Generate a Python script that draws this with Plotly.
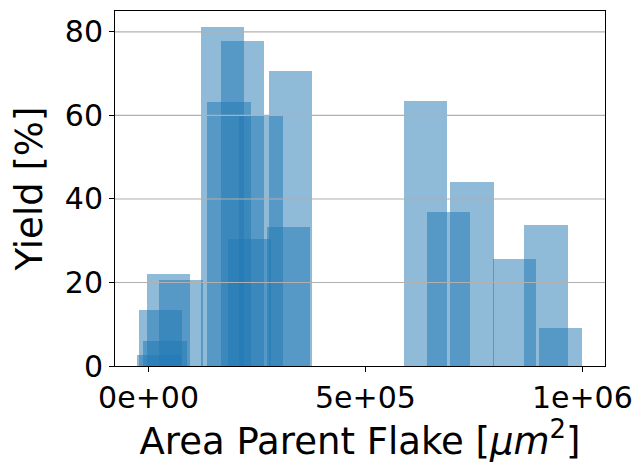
import plotly.graph_objects as go

# Data (bar centers in um^2, yields in %)
area_centers = [24500, 27000, 37800, 46000, 75000,
                170400, 185400, 216300, 232800, 259200, 322700, 327600,
                638800, 691500, 745400, 844000, 916700, 949200]
yield_values = [2.6, 13.3, 5.95, 22.1, 20.5,
                81.2, 63.1, 77.8, 30.5, 59.8, 33.3, 70.7,
                63.4, 36.9, 44.0, 25.7, 33.8, 9.0]
bar_width = 1e5

x_tick_vals = [0, 5e5, 1e6]
x_tick_text = ["0e+00", "5e+05", "1e+06"]
y_tick_vals = [0, 20, 40, 60, 80]

fig = go.Figure()
fig.add_trace(go.Bar(
    x=area_centers,
    y=yield_values,
    width=[bar_width] * len(area_centers),
    marker=dict(color="rgba(31,119,180,0.5)", line=dict(width=0)),
    showlegend=False,
))

font_family = "DejaVu Sans"

# horizontal gridlines above the bars (matplotlib style)
for yv in y_tick_vals[1:]:
    fig.add_shape(type="line", xref="paper", yref="y", x0=0, x1=1, y0=yv, y1=yv,
                  line=dict(color="#b0b0b0", width=1.1), layer="above")

fig.update_layout(
    width=643, height=463,
    margin=dict(l=115, r=35, t=10, b=96),
    paper_bgcolor="white", plot_bgcolor="white",
    barmode="overlay", bargap=0,
    font=dict(family=font_family, color="black", size=30),
    xaxis=dict(
        range=[-77300, 1052300],
        tickvals=x_tick_vals, ticktext=x_tick_text,
        ticks="outside", ticklen=5, tickwidth=1, tickcolor="black",
        showline=True, linecolor="black", linewidth=1, mirror=True,
        showgrid=False, zeroline=False,
        tickfont=dict(size=30, family=font_family),
        title=dict(text="Area Parent Flake [<i>μm</i><sup>2</sup>]",
                   font=dict(size=37, family=font_family), standoff=12),
    ),
    yaxis=dict(
        range=[0, 85],
        tickvals=y_tick_vals,
        ticks="outside", ticklen=5, tickwidth=1, tickcolor="black",
        showline=True, linecolor="black", linewidth=1, mirror=True,
        showgrid=False, zeroline=False,
        tickfont=dict(size=30, family=font_family),
        title=dict(text="Yield [%]", font=dict(size=37, family=font_family), standoff=10),
    ),
)

fig.write_html("out.html")
